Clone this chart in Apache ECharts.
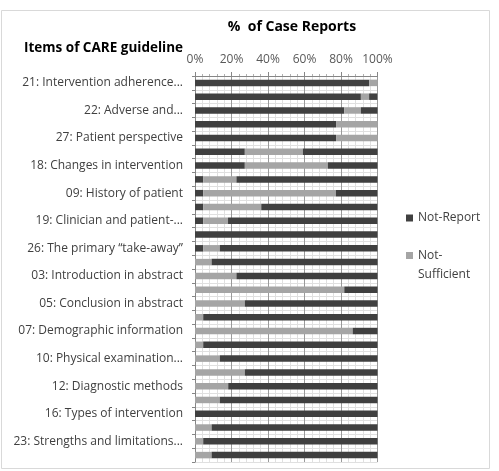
<!DOCTYPE html>
<html>
<head>
<meta charset="utf-8">
<script src="https://cdn.jsdelivr.net/npm/echarts@6/dist/echarts.min.js"></script>
<style>
html,body{margin:0;padding:0;background:#fff;}
#chart{width:499px;height:471px;}
</style>
</head>
<body>
<div id="chart"></div>
<script>
// 28 CARE items, top to bottom; only every other label is printed in the reference
const categories = [
  '21: Intervention adherence...', '',
  '22: Adverse and...', '',
  '27: Patient perspective', '',
  '18: Changes in intervention', '',
  '09: History of patient', '',
  '19: Clinician and patient-...', '',
  '26: The primary \u201ctake-away\u201d', '',
  '03: Introduction in abstract', '',
  '05: Conclusion in abstract', '',
  '07: Demographic information', '',
  '10: Physical examination...', '',
  '12: Diagnostic methods', '',
  '16: Types of intervention', '',
  '23: Strengths and limitations...', ''
];
// % of case reports per segment (left to right)
const notReport = [95.5, 90.9, 81.8, 77.3, 77.3, 27.3, 27.3, 4.5, 4.5, 4.5, 4.5, 0, 4.5, 0,
                   0, 0, 0, 0, 0, 0, 0, 0, 0, 0, 0, 0, 0, 0];
const notSufficient = [4.5, 4.5, 9.1, 22.7, 22.7, 31.8, 45.5, 18.2, 72.7, 31.8, 13.6, 0, 9.1, 9.1,
                       22.7, 81.8, 27.3, 4.5, 86.4, 4.5, 13.6, 27.3, 18.2, 13.6, 0, 9.1, 4.5, 9.1];
const sufficient = [0, 4.5, 9.1, 0, 0, 40.9, 27.3, 77.3, 22.7, 63.6, 81.8, 100, 86.4, 90.9,
                    77.3, 18.2, 72.7, 95.5, 13.6, 95.5, 86.4, 72.7, 81.8, 86.4, 100, 90.9, 95.5, 90.9];
const xTicks = [0, 20, 40, 60, 80, 100];

const DARK = '#404040';
const GRAY = '#a5a5a5';
const FONT = '"Open Sans", "Noto Sans", sans-serif';

const chart = echarts.init(document.getElementById('chart'), null, {renderer: 'canvas'});
chart.setOption({
  animation: false,
  backgroundColor: '#fff',
  textStyle: {fontFamily: FONT},
  grid: {left: 195, right: 121.5, top: 76, bottom: 9, containLabel: false},
  graphic: [
    {type: 'rect', shape: {x: 1.5, y: 10.5, width: 488, height: 458}, style: {fill: 'none', stroke: '#d9d9d9', lineWidth: 1}, silent: true},
    {type: 'text', x: 292, y: 27, style: {text: '%  of Case Reports', font: 'bold 14px ' + FONT, fill: '#000', align: 'center', verticalAlign: 'middle'}},
    {type: 'text', x: 24, y: 48, style: {text: 'Items of CARE guideline', font: 'bold 13.5px ' + FONT, fill: '#000', align: 'left', verticalAlign: 'middle'}}
  ],
  legend: [
    {
      orient: 'vertical', left: 401, top: 205,
      itemWidth: 7, itemHeight: 7, itemGap: 5,
      data: [{name: 'Not-Report', icon: 'rect'}],
      textStyle: {fontSize: 12, color: '#404040', fontFamily: FONT, lineHeight: 16}
    },
    {
      orient: 'vertical', left: 401, top: 241,
      itemWidth: 7, itemHeight: 26, itemGap: 5,
      data: [{name: 'Not-Sufficient', icon: 'path://M0,0h7v7h-7zM0,0M7,26'}],
      formatter: function () { return 'Not-\nSufficient'; },
      textStyle: {fontSize: 12, color: '#404040', fontFamily: FONT, lineHeight: 19}
    }
  ],
  xAxis: {
    type: 'value', position: 'top', min: xTicks[0], max: xTicks[xTicks.length - 1], interval: 20,
    axisLine: {show: true, lineStyle: {color: '#868686'}},
    axisTick: {show: true, length: 4, lineStyle: {color: '#868686'}},
    minorTick: {show: true, splitNumber: 5, length: 2, lineStyle: {color: '#b0b0b0'}},
    axisLabel: {formatter: '{value}%', fontSize: 12, color: '#595959', margin: 10, fontFamily: FONT},
    splitLine: {show: true, lineStyle: {color: '#9a9a9a', width: 1}},
    minorSplitLine: {show: true, lineStyle: {color: '#e0e0e0', width: 1}}
  },
  yAxis: {
    type: 'category', inverse: true, data: categories,
    axisLine: {show: true, lineStyle: {color: '#868686'}},
    axisTick: {show: true, interval: 0, length: 3, lineStyle: {color: '#868686'}},
    axisLabel: {interval: 0, fontSize: 12, color: '#404040', margin: 12, fontFamily: FONT},
    splitLine: {show: true, interval: 0, lineStyle: {color: '#e0e0e0'}}
  },
  series: [
    {name: 'Not-Report', type: 'bar', stack: 'all', data: notReport, barWidth: 6.5, itemStyle: {color: DARK}},
    {name: 'Not-Sufficient', type: 'bar', stack: 'all', data: notSufficient, barWidth: 6.5, itemStyle: {color: GRAY}},
    {name: 'Sufficient', type: 'bar', stack: 'all', data: sufficient, barWidth: 6.5, itemStyle: {color: DARK}}
  ]
});
</script>
</body>
</html>
